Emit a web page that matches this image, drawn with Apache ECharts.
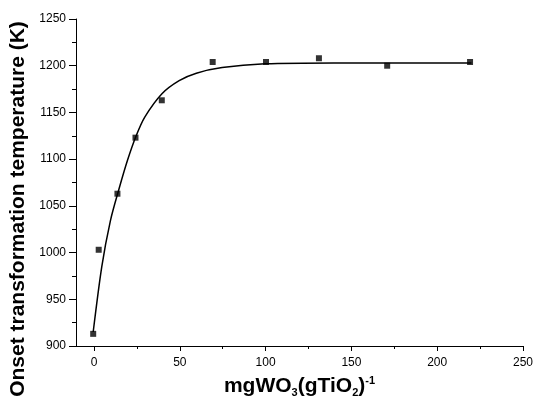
<!DOCTYPE html>
<html>
<head>
<meta charset="utf-8">
<script src="https://cdn.jsdelivr.net/npm/echarts@6/dist/echarts.min.js"></script>
<style>
html, body { margin: 0; padding: 0; background: #fff; }
#main { width: 534px; height: 400px; }
</style>
</head>
<body>
<div id="main"></div>
<script>
// measured points
const loadingX = [0, 3.2, 14.1, 24.6, 39.9, 69.5, 100.5, 131.3, 171, 219.2];
const onsetT = [913, 1003, 1063, 1123, 1163, 1204, 1204, 1208, 1200, 1204];

// fitted curve
const fitX = [0, 5, 10, 15, 20, 25, 30, 40, 50, 60, 75, 100, 140, 220];
const fitT = [915, 985, 1034, 1068, 1099, 1125, 1145, 1170, 1184, 1192, 1198, 1202, 1203, 1203];

const xTicks = [0, 50, 100, 150, 200, 250];
const yTicks = [900, 950, 1000, 1050, 1100, 1150, 1200, 1250];

const font = "'Liberation Sans', Arial, sans-serif";

let chart = echarts.init(document.getElementById('main'));

const option = {
	backgroundColor: '#fff',
	animation: false,
	grid: [
		{ left: 76, right: 11, top: 19, bottom: 54, containLabel: false, outerBoundsMode: 'none' },
		{ left: 94, right: 11, top: 19, bottom: 54, containLabel: false, outerBoundsMode: 'none' }
	],
	xAxis: [
		{
			gridIndex: 0,
			type: 'value',
			min: -10,
			max: 250,
			axisLine: { show: true, onZero: false, lineStyle: { color: '#000', width: 1 } },
			axisTick: { show: false },
			axisLabel: { show: false },
			splitLine: { show: false },
			name: '{b|mgWO}{s|3}{b|(gTiO}{s|2}{b|)}{p|-1}',
			nameLocation: 'middle',
			nameGap: 29,
			nameTextStyle: {
				rich: {
					b: { fontFamily: font, fontWeight: 'bold', fontSize: 21, color: '#000' },
					s: { fontFamily: font, fontWeight: 'bold', fontSize: 11, color: '#000', verticalAlign: 'bottom', padding: [12, 0, 0, 0] },
					p: { fontFamily: font, fontWeight: 'bold', fontSize: 11, color: '#000', verticalAlign: 'top', padding: [0, 0, 10, 0] }
				}
			}
		},
		{
			gridIndex: 1,
			type: 'value',
			min: xTicks[0],
			max: xTicks[xTicks.length - 1],
			interval: 50,
			axisLine: { show: false, onZero: false },
			axisTick: { show: true, length: 5, lineStyle: { color: '#000' } },
			minorTick: { show: true, splitNumber: 2, length: 3, lineStyle: { color: '#000' } },
			axisLabel: { fontFamily: font, fontSize: 12, color: '#000', margin: 11, formatter: v => String(v) },
			splitLine: { show: false }
		}
	],
	yAxis: [
		{
			gridIndex: 0,
			type: 'value',
			min: yTicks[0],
			max: yTicks[yTicks.length - 1],
			interval: 50,
			axisLine: { show: true, onZero: false, lineStyle: { color: '#000', width: 1 } },
			axisTick: { show: true, length: 7, lineStyle: { color: '#000' } },
			minorTick: { show: true, splitNumber: 2, length: 4, lineStyle: { color: '#000' } },
			axisLabel: { fontFamily: font, fontSize: 12, color: '#000', margin: 10, formatter: v => String(v) },
			splitLine: { show: false },
			name: 'Onset transformation temperature (K)',
			nameLocation: 'middle',
			nameGap: 41,
			nameTextStyle: { fontFamily: font, fontWeight: 'bold', fontSize: 21, color: '#000', padding: [0, 53, 0, 0] }
		},
		{
			gridIndex: 1,
			type: 'value',
			min: 0,
			max: 1,
			show: false
		}
	],
	series: [
		{
			name: 'fit',
			type: 'line',
			xAxisIndex: 0,
			yAxisIndex: 0,
			data: fitX.map((x, i) => [x, fitT[i]]),
			smooth: 0.3,
			showSymbol: false,
			lineStyle: { color: '#000', width: 1.5 },
			z: 2
		},
		{
			name: 'onset',
			type: 'scatter',
			xAxisIndex: 0,
			yAxisIndex: 0,
			data: loadingX.map((x, i) => [x, onsetT[i]]),
			symbol: 'rect',
			symbolSize: 6,
			itemStyle: { color: '#000' },
			z: 3
		}
	]
};

chart.setOption(option);
</script>
</body>
</html>
